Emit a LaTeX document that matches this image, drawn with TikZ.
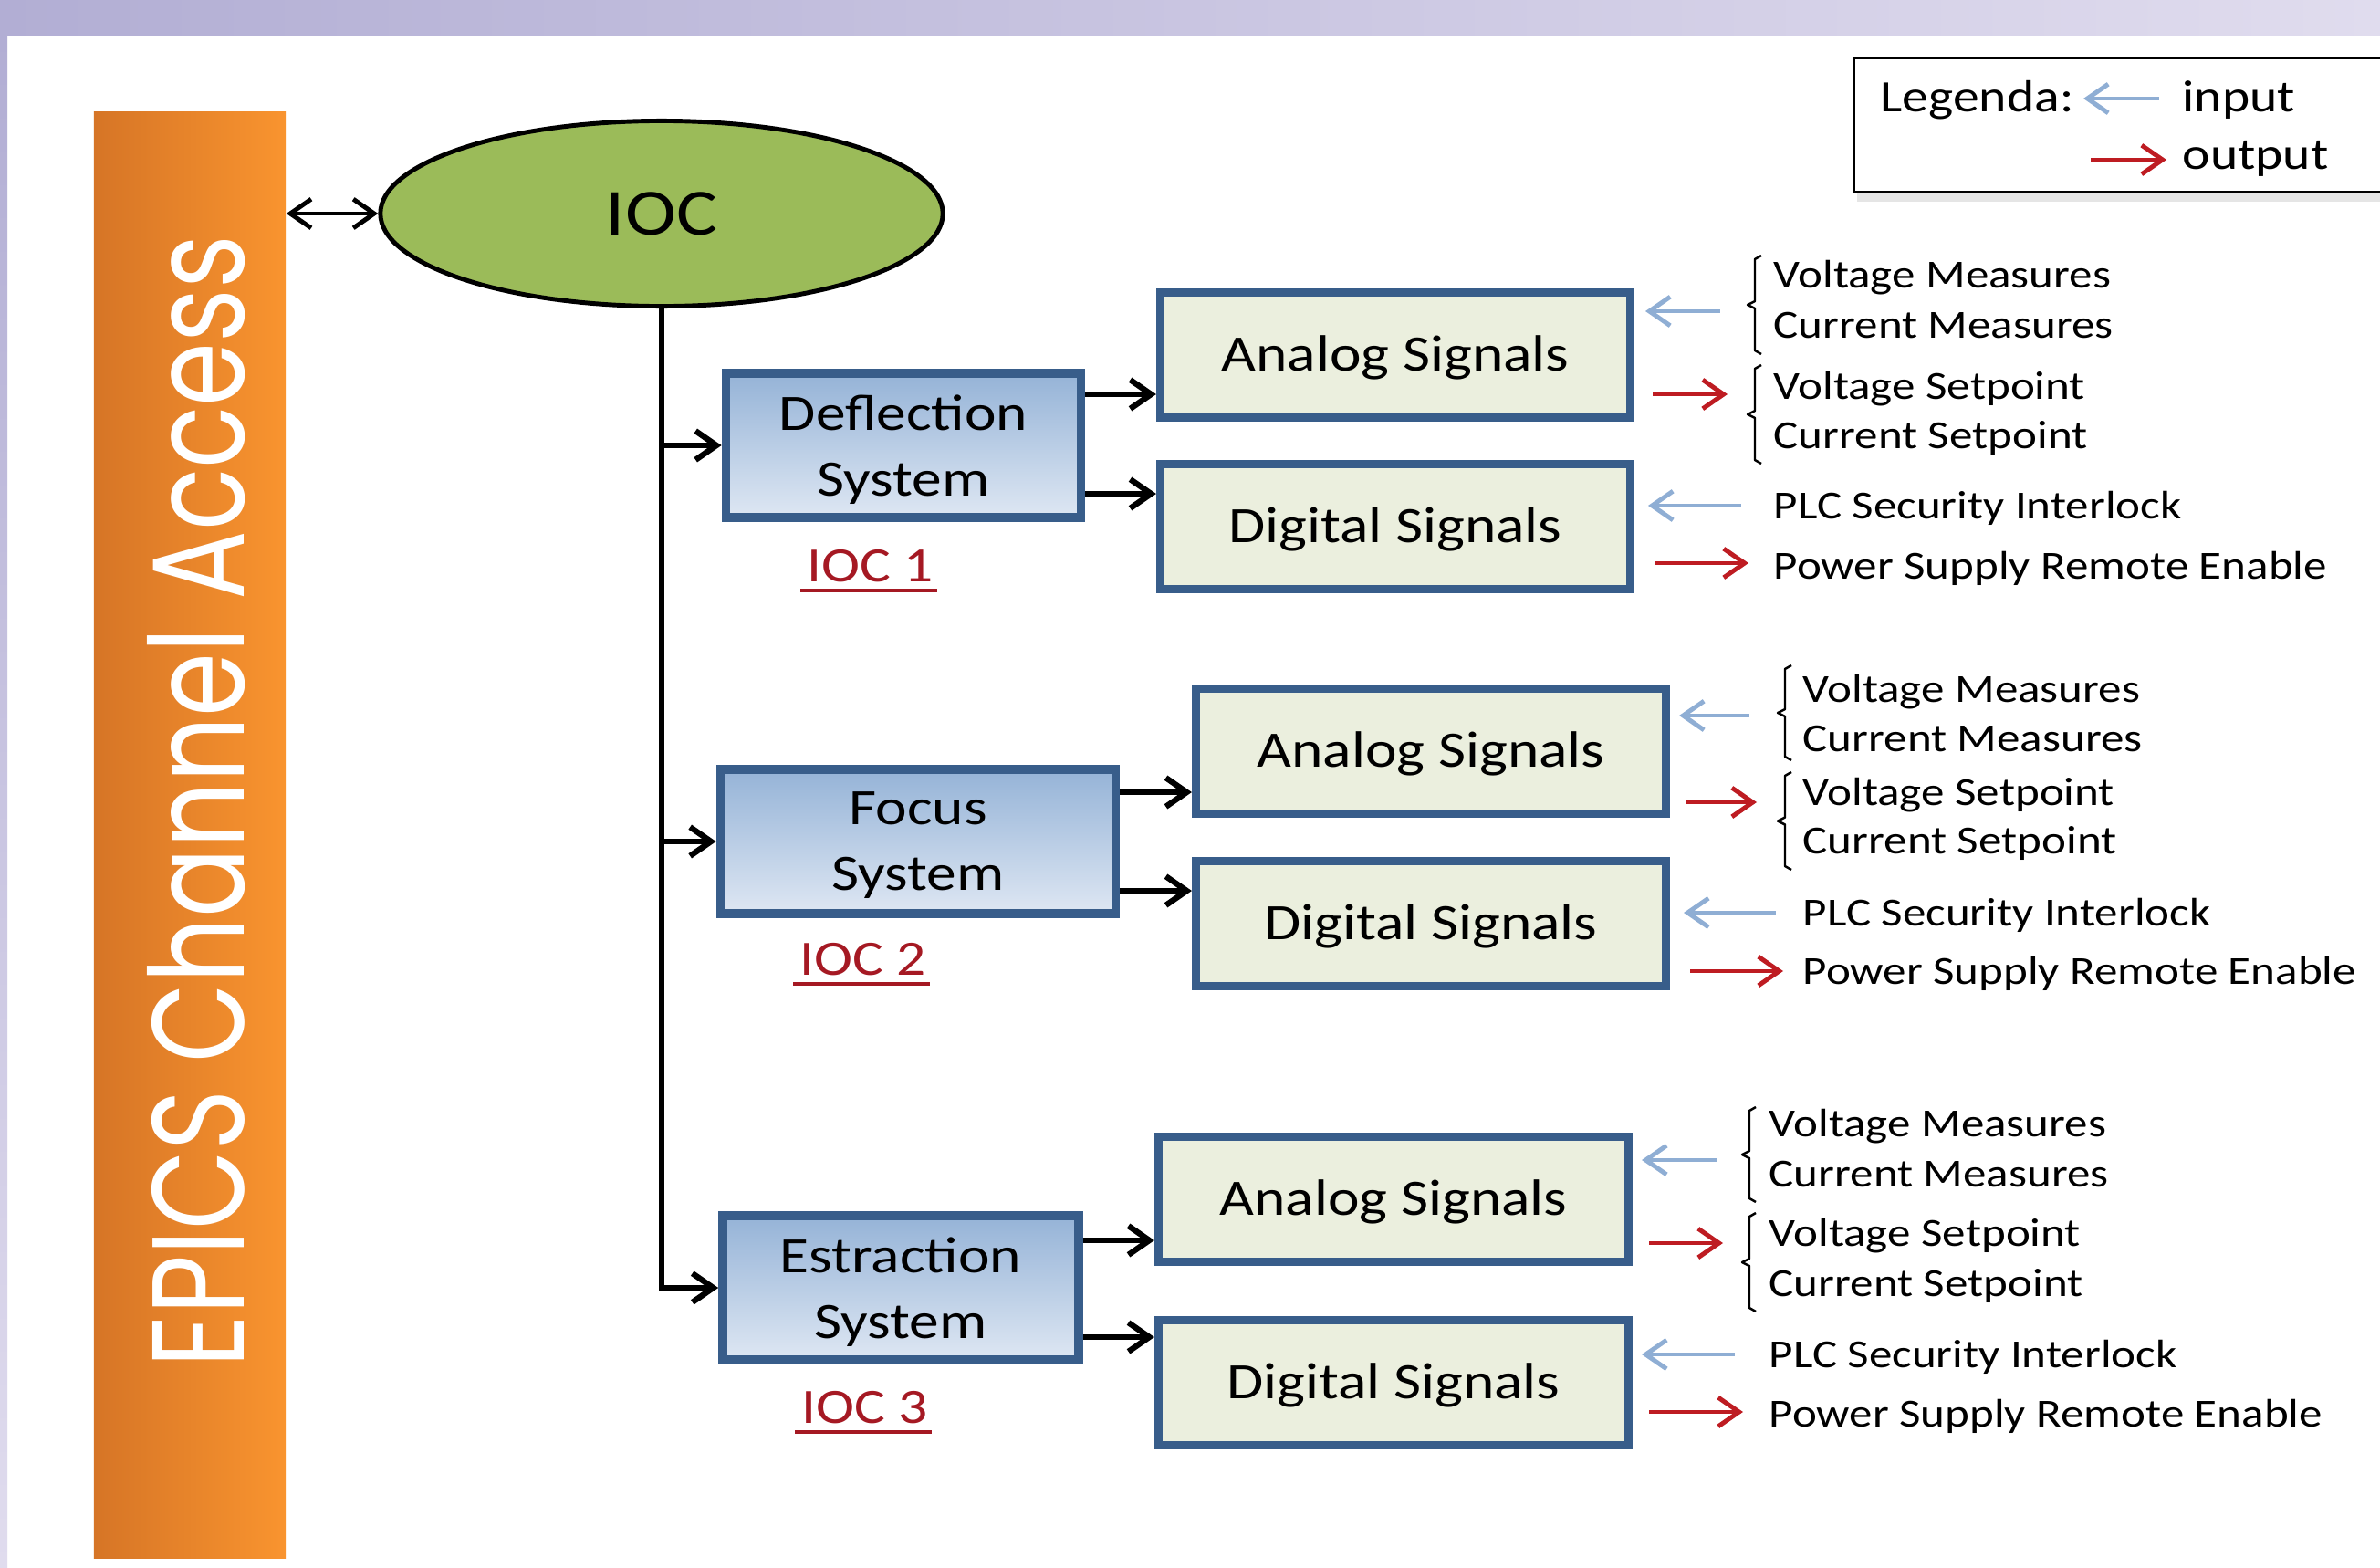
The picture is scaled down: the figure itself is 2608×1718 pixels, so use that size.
\documentclass[tikz,border=0pt]{standalone}
\usepackage{fontspec}
\setmainfont{Carlito}[FakeStretch=1.17]
\newfontfamily\gothfont{Poppins}
\usetikzlibrary{arrows.meta,shapes.geometric,shadows}

\definecolor{boxblue}{RGB}{56,93,138}
\definecolor{systop}{RGB}{149,179,215}
\definecolor{sysbot}{RGB}{222,231,243}
\definecolor{sigfill}{RGB}{235,239,222}
\definecolor{iocgreen}{RGB}{155,187,89}
\definecolor{inblue}{RGB}{143,174,212}
\definecolor{outred}{RGB}{190,28,34}
\definecolor{ulred}{RGB}{165,25,35}
\definecolor{orangeL}{RGB}{214,117,38}
\definecolor{orangeR}{RGB}{249,148,47}
\definecolor{lavL}{RGB}{178,174,212}
\definecolor{lavR}{RGB}{224,220,238}

\begin{document}
\begin{tikzpicture}[x=0.01cm,y=-0.01cm,>={Straight Barb[length=6.5pt,width=9pt]},
    conn/.style={->,line width=1.8pt},
    sysbox/.style={draw=boxblue,line width=2.7pt,top color=systop,bottom color=sysbot,
                   minimum height=1.58cm,inner sep=0pt,align=center,text depth=0pt,
                   font=\fontsize{15.9}{20.5}\selectfont},
    sigbox/.style={draw=boxblue,line width=2.5pt,fill=sigfill,minimum width=5.15cm,
                   minimum height=1.37cm,inner sep=0pt,text height=10.2pt,text depth=0pt,
                   font=\fontsize{15.9}{19}\selectfont},
    inarrow/.style={<-,inblue,line width=1.4pt},
    outarrow/.style={->,outred,line width=1.4pt},
    lbl/.style={anchor=base west,inner sep=0pt,font=\fontsize{12.4}{15}\selectfont},
    leg/.style={anchor=base west,inner sep=0pt,font=\fontsize{14}{17}\selectfont},
    ioclbl/.style={anchor=base,inner sep=0pt,text=ulred,font=\fontsize{15.4}{18}\selectfont},
    brace/.style={line width=0.7pt,line join=round}]
  \clip (0,0) rectangle (2608,1718);
  \fill[white] (0,0) rectangle (2608,1718);
  \shade[left color=lavL,right color=lavR] (0,0) rectangle (2608,38);
  \shade[top color=lavL,bottom color=lavR] (0,38) rectangle (8,1718);

  \node (bar) at (208,915) [rectangle,left color=orangeL,right color=orangeR,
                            minimum width=2.10cm,minimum height=15.85cm,inner sep=0pt]{};
  \node (epics) at (267,878) [rotate=90,anchor=base,inner sep=0pt,text=white]
        {\resizebox{12.4cm}{1.06cm}{\gothfont EPICS Channel Access}};

  \node (ioc) at (725,234) [ellipse,draw,line width=1.4pt,fill=iocgreen,inner sep=0pt,
                            minimum width=6.16cm,minimum height=2.03cm,
                            font=\fontsize{20.5}{24}\selectfont]{IOC};
  \draw [<->,line width=1.4pt] (bar.east |- ioc.west) -- (ioc.west);

  \node (defl)  at (990,488)  [sysbox,minimum width=3.89cm]{Deflection\\System};
  \node (focus) at (1006,922) [sysbox,minimum width=4.33cm]{Focus\\System};
  \node (estr)  at (987,1411) [sysbox,minimum width=3.90cm]{Estraction\\System};

  \draw [conn] (ioc.south) |- (estr.west);
  \draw [conn] (ioc.south |- defl.west) -- (defl.west);
  \draw [conn] (ioc.south |- focus.west) -- (focus.west);

  \foreach \n/\x/\y/\t in {ioc1/954/637/IOC 1,ioc2/946/1068/IOC 2,ioc3/948/1559/IOC 3}{
    \node (\n) at (\x,\y) [ioclbl]{\t};
    \draw [ulred,line width=1.2pt] ([xshift=-2pt,yshift=-2.9pt]\n.base west)
                                   -- ([xshift=1pt,yshift=-2.9pt]\n.base east);
  }

  \node (ana1) at (1529,389)  [sigbox]{Analog Signals};
  \node (dig1) at (1529,577)  [sigbox]{Digital Signals};
  \node (ana2) at (1568,823)  [sigbox]{Analog Signals};
  \node (dig2) at (1568,1012) [sigbox]{Digital Signals};
  \node (ana3) at (1527,1314) [sigbox]{Analog Signals};
  \node (dig3) at (1527,1515) [sigbox]{Digital Signals};

  \foreach \s/\a/\d/\ya/\yd in {defl/ana1/dig1/432/541,focus/ana2/dig2/868/976,estr/ana3/dig3/1359/1465}{
    \draw [conn] (\s.east |- 0,\ya) -- (\a.west |- 0,\ya);
    \draw [conn] (\s.east |- 0,\yd) -- (\d.west |- 0,\yd);
  }

  \foreach \x/\y/\l in {1803/341/82,1806/554/102,1840/784/77,1845/1000/101,1799/1271/83,1799/1484/102}
    \draw [inarrow] (\x,\y) -- +(\l,0);
  \foreach \x/\y/\l in {1811/432/82,1813/617/103,1848/879/77,1852/1064/102,1807/1362/81,1807/1547/103}
    \draw [outarrow] (\x,\y) -- +(\l,0);

  \foreach \x/\t/\b in {1923/280/388,1923/400/508,1956/729/833,1956/846/953,1917/1213/1317,1917/1329/1437}
    \draw [brace] ({\x+7},\t) -- (\x,{\t+4}) -- (\x,{(\t+\b)/2-4}) -- ({\x-8},{(\t+\b)/2})
                  -- (\x,{(\t+\b)/2+4}) -- (\x,{\b-4}) -- ({\x+7},\b);

  \foreach \t/\y [count=\i] in {Voltage Measures/315,Current Measures/370,Voltage Setpoint/437,
                                Current Setpoint/491,PLC Security Interlock/568,Power Supply Remote Enable/634}
    \node (a\i) at (1943,\y) [lbl]{\t};
  \foreach \t/\y [count=\i] in {Voltage Measures/769,Current Measures/823,Voltage Setpoint/882,
                                Current Setpoint/935,PLC Security Interlock/1014,Power Supply Remote Enable/1078}
    \node (b\i) at (1975,\y) [lbl]{\t};
  \foreach \t/\y [count=\i] in {Voltage Measures/1245,Current Measures/1300,Voltage Setpoint/1365,
                                Current Setpoint/1420,PLC Security Interlock/1498,Power Supply Remote Enable/1563}
    \node (c\i) at (1938,\y) [lbl]{\t};

  \node (legend) at (2336,137) [rectangle,draw,line width=0.8pt,fill=white,
                                minimum width=6.09cm,minimum height=1.47cm,
                                drop shadow={opacity=0.2,shadow xshift=1pt,shadow yshift=-3pt}]{};
  \node (legname) at (2060,122) [leg]{Legenda:};
  \node (legin)   at (2391,122) [leg]{input};
  \node (legout)  at (2391,185) [leg]{output};
  \draw [inarrow]  (2283,108) -- +(83,0);
  \draw [outarrow] (2291,175) -- +(83,0);
\end{tikzpicture}
\end{document}
